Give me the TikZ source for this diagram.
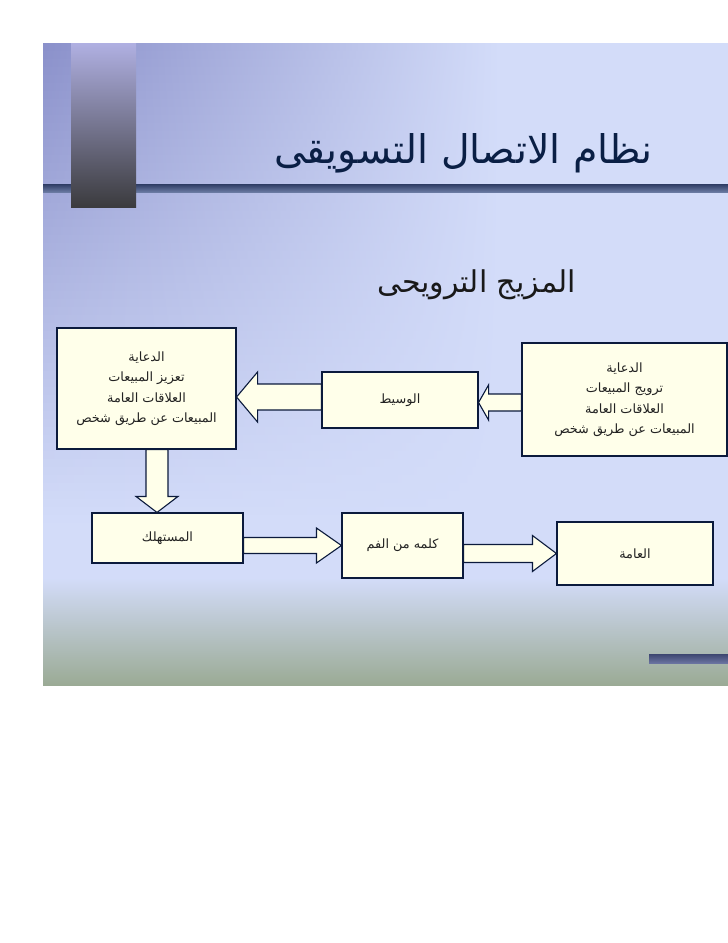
\documentclass[tikz,border=0pt]{standalone}
\usepackage{fontspec}
\usetikzlibrary{calc}
\TeXXeTstate=1
\newfontfamily\arabicfont[Script=Arabic]{DejaVu Sans}
\newcommand\AR[1]{\beginR #1\endR}
\definecolor{bgdark}{HTML}{8A90CA}
\definecolor{bglight}{HTML}{D3DCF9}
\definecolor{bggreen}{HTML}{9AAA94}
\definecolor{boxfill}{HTML}{FFFFEA}
\definecolor{boxline}{HTML}{0B1A3C}
\definecolor{boxtext}{HTML}{222222}
\definecolor{titlecol}{HTML}{0A1F45}
\newcommand\blockarrow[5]{%
  \coordinate (ba-s) at #1;
  \coordinate (ba-t) at #2;
  \coordinate (ba-h) at ($(ba-t)!#5!(ba-s)$);
  \draw[blockarr] ($(ba-s)!#3!90:(ba-t)$) -- ($(ba-h)!#3!90:(ba-t)$) -- ($(ba-h)!#4!90:(ba-t)$) -- (ba-t) -- ($(ba-h)!#4!-90:(ba-t)$) -- ($(ba-h)!#3!-90:(ba-t)$) -- ($(ba-s)!#3!-90:(ba-t)$) -- cycle;
}
\tikzset{
  box/.style={draw=boxline, line width=1.1pt, fill=boxfill, inner sep=0pt, align=center,
    text=boxtext, font=\arabicfont\fontsize{12.8}{20.5}\selectfont},
  blockarr/.style={draw=boxline, line width=1.1pt, fill=boxfill, line join=miter},
  titletext/.style={text=titlecol, inner sep=0pt, font=\arabicfont\fontsize{39.5}{42}\selectfont},
  subtext/.style={text=black!90, inner sep=0pt, font=\arabicfont\fontsize{30}{33}\selectfont},
}
\begin{document}
\begin{tikzpicture}[x=1pt,y=-1pt]
\useasboundingbox (0,0) rectangle (728,943);
\fill[white] (0,0) rectangle (728,943);
% slide background
\begin{scope}
  \clip (43,43) rectangle (728,685);
  \fill[bglight] (43,43) rectangle (728,685);
  \foreach \yy in {43,51,...,523} {
    \pgfmathsetmacro\bgmix{min(100,(\yy+4-43)/4.8)}
    \colorlet{bgrow}{bglight!\bgmix!bgdark}
    \shade[left color=bgrow, middle color=bglight!30!bgrow, right color=bglight] (43,\yy) rectangle (500,\yy+9);
  }
  \shade[top color=bglight, bottom color=bggreen] (43,578) rectangle (728,686);
\end{scope}
% decorative bars
\shade[top color={rgb,255:red,46;green,60;blue,100}, bottom color={rgb,255:red,106;green,122;blue,162}] (43,184) rectangle (728,192);
\shade[top color={rgb,255:red,176;green,176;blue,226}, middle color={rgb,255:red,128;green,128;blue,160}, bottom color={rgb,255:red,59;green,59;blue,62}] (71,43) rectangle (136,207);
\shade[top color={rgb,255:red,61;green,70;blue,112}, bottom color={rgb,255:red,106;green,115;blue,160}] (649,654) rectangle (728,663);
% titles
\node[titletext, anchor=base] (title) at (463.5,163) {\AR{نظام الاتصال التسويقى}};
\node[subtext, anchor=base] (sub) at (476.5,292) {\AR{المزيج الترويحى}};
% boxes
\node[box, minimum width=179pt, minimum height=121pt] (L1) at (146.5,388.5)
  {\AR{الدعاية}\\\AR{تعزيز المبيعات}\\\AR{العلاقات العامة}\\\AR{المبيعات عن طريق شخص}};
\node[box, minimum width=156pt, minimum height=56pt] (M) at (400,400) {\AR{الوسيط}};
\node[box, minimum width=205pt, minimum height=113pt] (R1) at (624.5,399.5)
  {\AR{الدعاية}\\\AR{ترويج المبيعات}\\\AR{العلاقات العامة}\\\AR{المبيعات عن طريق شخص}};
\node[box, minimum width=151pt, minimum height=50pt] (C) at (167.5,538) {\AR{المستهلك}};
\node[box, minimum width=121pt, minimum height=65pt] (W) at (402.5,545.5) {\AR{كلمه من الفم}};
\node[box, minimum width=156pt, minimum height=63pt] (G) at (635,553.5) {\AR{العامة}};
% block arrows
\coordinate (a1s) at ([yshift=-3pt]R1.west);
\coordinate (a1t) at (M.east |- a1s);
\blockarrow{(a1s)}{(a1t)}{8.5pt}{17.5pt}{10pt}
\coordinate (a2s) at ([yshift=3pt]M.west);
\coordinate (a2t) at (L1.east |- a2s);
\blockarrow{(a2s)}{(a2t)}{13pt}{25pt}{21pt}
\coordinate (a3s) at ([xshift=10.5pt]L1.south);
\coordinate (a3t) at (a3s |- C.north);
\blockarrow{(a3s)}{(a3t)}{11pt}{21pt}{16pt}
\coordinate (a4t) at (W.west);
\coordinate (a4s) at (C.east |- a4t);
\blockarrow{(a4s)}{(a4t)}{8pt}{17.5pt}{25pt}
\coordinate (a5t) at (G.west);
\coordinate (a5s) at (W.east |- a5t);
\blockarrow{(a5s)}{(a5t)}{9pt}{18pt}{24pt}
\end{tikzpicture}
\end{document}
